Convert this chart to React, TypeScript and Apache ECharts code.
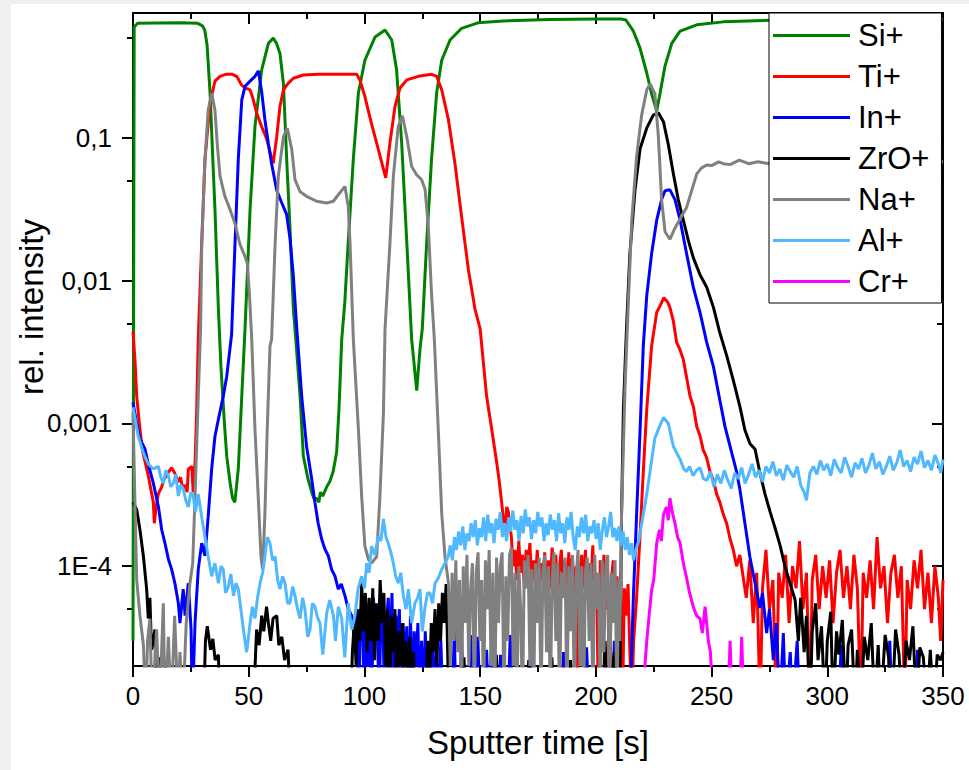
import React, { useEffect, useRef } from 'react';
import * as echarts from 'echarts';

const FONT = '"Liberation Sans", Arial, Helvetica, sans-serif';

const seriesNames = ['Si+', 'Ti+', 'In+', 'ZrO+', 'Na+', 'Al+', 'Cr+'];
const seriesColors = ['#008000', '#ff0000', '#0000ff', '#000000', '#808080', '#4fb8ff', '#ff00ff'];

const xRange = [0, 350];
const xInterval = 50;
const yRange = [2e-5, 0.75];
const yTickValues = [1e-4, 1e-3, 1e-2, 0.1];
const yTickLabels = ['1E-4', '0,001', '0,01', '0,1'];
const yMinorValues = [5e-5, 5e-4, 5e-3, 5e-2, 0.5];

const siPlus: [number, number][] = [[0,3e-5],[0.5,0.6],[2,0.635],[10,0.638],[20,0.64],[28,0.635],[30,0.61],[31,0.57],[32,0.45],[33.3,0.207],[34.5,0.07],[35.4,0.032],[36.9,0.0063],[38,0.0025],[39.5,0.001],[40.5,0.00059],[42,0.00038],[43,0.0003],[44,0.00028],[45.5,0.00048],[47,0.00155],[48.4,0.0046],[49.5,0.012],[50.6,0.032],[52.7,0.12],[55.6,0.3],[58.5,0.46],[60.6,0.5],[62,0.46],[63.5,0.39],[65,0.24],[66.4,0.071],[67.8,0.024],[69.3,0.0063],[70,0.0046],[72.2,0.00155],[73.6,0.00059],[75.6,0.00041],[77.5,0.00032],[78.5,0.00029],[79.4,0.0003],[80.3,0.00028],[81,0.00033],[82,0.00031],[83.7,0.00036],[85,0.00039],[86.5,0.00046],[88,0.00063],[89,0.00126],[90.2,0.0039],[91.5,0.007],[93,0.0186],[95.2,0.071],[97.4,0.207],[100.2,0.35],[104.6,0.51],[108.9,0.57],[111.8,0.485],[113.9,0.3],[116.1,0.092],[118.3,0.0186],[120.4,0.0039],[122.6,0.0017],[124,0.0033],[125,0.0046],[126.9,0.0186],[129,0.071],[131.2,0.207],[133.4,0.35],[137,0.485],[142,0.586],[149,0.64],[160,0.66],[180,0.675],[200,0.68],[211,0.68],[213,0.67],[216.2,0.56],[219,0.43],[222,0.285],[224.1,0.203],[226.3,0.155],[227.7,0.204],[229.9,0.32],[232.8,0.46],[236.4,0.56],[243.6,0.62],[255,0.65],[280,0.67],[350,0.68]];

const tiPlus: [number, number][] = [[0,0.0044],[0.9,0.0027],[1.6,0.00155],[3,0.00091],[4.2,0.00063],[5.2,0.00054],[6.6,0.00043],[7.5,0.00036],[8.8,0.00028],[9.2,0.0002],[10,0.00026],[10.9,0.00032],[12.4,0.00036],[13.5,0.00041],[14.5,0.00043],[15.5,0.00046],[16.7,0.00049],[18,0.00045],[19.6,0.00039],[20.5,0.00042],[21.5,0.00035],[22.5,0.00037],[23.4,0.00033],[23.9,0.00048],[25.4,0.0005],[26,0.00033],[26.8,0.00052],[27.5,0.0012],[28.2,0.0039],[29.7,0.0186],[31.1,0.071],[33.3,0.176],[35.4,0.25],[37.6,0.27],[40,0.279],[43,0.279],[44.8,0.27],[47,0.234],[48.4,0.224],[50.6,0.217],[52,0.185],[53.4,0.15],[55.6,0.12],[57.8,0.098],[59.9,0.072],[60.6,0.0665],[62.1,0.102],[63.5,0.166],[65,0.217],[67.1,0.242],[69.3,0.262],[73.6,0.276],[80,0.279],[90,0.279],[96.7,0.279],[98,0.255],[100.2,0.195],[103,0.127],[106,0.083],[109.2,0.0525],[111,0.092],[113.2,0.166],[115.4,0.224],[118.3,0.255],[123.3,0.27],[129,0.279],[131.2,0.27],[133.4,0.217],[136.3,0.134],[139.1,0.0665],[142,0.028],[144.9,0.012],[147.8,0.0063],[150,0.0046],[152.8,0.00155],[155,0.00091],[157.1,0.00054],[158.2,0.0004],[159.3,0.00028],[160.7,0.00017],[161.5,0.00026],[162.2,0.00024],[163.5,0.00016],[164.3,0.0001],[165.1,0.00013],[165.9,8e-5],[166.7,0.00015],[167.5,9e-5],[168.3,0.00012],[169.1,7e-5],[169.9,0.00013],[170.7,0.0001],[171.5,0.000145],[172.3,7.5e-5],[173.1,0.00011],[173.9,8e-5],[174.7,0.00013],[175.5,6.5e-5],[176.3,0.000105],[177.1,8e-5],[177.9,0.000125],[178.7,6e-5],[179.5,0.00011],[180.3,7e-5],[181.1,0.000135],[181.9,9e-5],[182.7,0.00012],[183.5,6e-5],[184.3,0.0001],[185.1,0.00013],[185.9,7e-5],[186.7,0.00011],[187.5,5.5e-5],[188.3,0.000125],[189.1,8e-5],[189.9,0.000115],[190.7,6e-5],[191.5,0.0001],[192.3,1e-5],[193.1,9e-5],[193.9,0.00012],[194.7,7e-5],[195.5,0.00013],[196.3,6e-5],[197.1,0.000105],[197.9,8e-5],[198.7,0.00014],[199.5,5e-5],[200.3,9e-5],[201.1,1e-5],[201.9,0.00011],[202.7,7e-5],[203.5,0.00012],[204.3,5e-5],[205.1,9e-5],[205.9,1e-5],[206.7,8e-5],[207.5,0.00011],[208.3,5e-5],[209.1,8.5e-5],[209.9,4e-5],[210.7,9e-5],[211.5,1e-5],[212.3,7e-5],[213.1,4.5e-5],[213.9,7.5e-5],[214.7,2.5e-5],[215.5,1e-5],[216.3,3e-5],[217.6,6e-5],[219.1,0.000166],[220.5,0.00046],[222,0.00126],[224.1,0.0035],[226.3,0.006],[228,0.0068],[229.4,0.0076],[231,0.0071],[232,0.0065],[233.5,0.0052],[234.9,0.0037],[236.3,0.0033],[237.8,0.0028],[239.2,0.0021],[240.7,0.00155],[242.2,0.0013],[243.6,0.00095],[245,0.00082],[246.4,0.00065],[247.8,0.00058],[249.3,0.00046],[250.8,0.0004],[252.2,0.00032],[253.6,0.00028],[255.1,0.00023],[256.5,0.0002],[258,0.000155],[259.4,0.00013],[260.8,0.0001],[262.2,0.00012],[263.7,8.3e-5],[265,6e-5],[266.5,0.00011],[268,4e-5],[269.5,9e-5],[271,1e-5],[272,7e-5],[273.5,0.00013],[275,5e-5],[276.5,8e-5],[278,1e-5],[279,9e-5],[280.5,6e-5],[282,0.00012],[283.5,4e-5],[285,0.0001],[286.5,7e-5],[288,0.00015],[289.5,5e-5],[291,9e-5],[292.5,1e-5],[293.5,8e-5],[295,0.00012],[296.5,5e-5],[298,0.0001],[299.5,6e-5],[301,0.00011],[302.5,4e-5],[304,9e-5],[305.5,0.00013],[307,6e-5],[308.5,0.0001],[310,5e-5],[311.5,0.00012],[313,7e-5],[314.5,1e-5],[315.5,9e-5],[317,6e-5],[318.5,0.00011],[320,5e-5],[321.5,0.00016],[323,7e-5],[324.5,0.0001],[326,4e-5],[327.5,9e-5],[329,0.00012],[330.5,6e-5],[332,0.0001],[333.5,1e-5],[334.5,8e-5],[336,5e-5],[337.5,0.00011],[339,7e-5],[340.5,0.00013],[342,5e-5],[343.5,9e-5],[345,4e-5],[346.5,0.0001],[348,6e-5],[349,3e-5],[350,8e-5]];

const inPlus: [number, number][] = [[0,0.0014],[1.6,0.001],[3,0.00078],[5.2,0.00066],[6.6,0.00052],[8.8,0.00038],[11,0.00026],[12.4,0.00018],[13.8,0.000145],[15.3,0.000112],[16.7,9.5e-5],[18.1,7.6e-5],[19.6,5.5e-5],[20.3,4e-5],[21.7,6.9e-5],[22.5,4.5e-5],[23.9,7.6e-5],[25.1,3.6e-5],[25.6,1e-5],[26.8,4e-5],[28.2,9.5e-5],[29.7,0.000145],[31.1,0.000118],[32.5,0.000224],[34,0.00048],[35.4,0.00081],[36.9,0.00107],[39,0.00155],[40.5,0.00214],[42.6,0.0042],[44.1,0.0186],[45.5,0.071],[47,0.185],[48.4,0.23],[50.6,0.25],[52.7,0.27],[54.2,0.295],[55.6,0.21],[57,0.134],[58.5,0.091],[59.9,0.066],[62.1,0.043],[64.3,0.035],[66.4,0.029],[67.8,0.02],[69.3,0.0107],[70.7,0.0048],[72.9,0.00155],[75,0.00069],[77.2,0.00041],[78.6,0.00028],[80,0.0002],[81.5,0.000155],[82.9,0.000132],[84.4,0.000118],[85.8,9.5e-5],[87.3,8.5e-5],[88.7,6.9e-5],[90,7.5e-5],[91.6,6.2e-5],[93,5e-5],[94.5,4.5e-5],[95.9,2.9e-5],[96.7,5e-5],[97.5,1e-5],[98.3,4.5e-5],[99.1,6e-5],[99.9,1e-5],[100.7,5.5e-5],[101.5,2e-5],[102.3,4.8e-5],[103.1,1e-5],[103.9,6e-5],[104.7,3e-5],[105.5,5e-5],[106.3,1e-5],[107.1,4.2e-5],[107.9,5.5e-5],[108.7,1e-5],[109.5,4e-5],[110.3,6e-5],[111.1,2e-5],[111.9,6.5e-5],[112.7,1e-5],[113.5,4.5e-5],[114.3,3e-5],[115.1,5e-5],[115.9,1e-5],[116.7,4e-5],[117.5,2e-5],[118.3,3.8e-5],[119.1,1e-5],[119.9,4.5e-5],[120.7,1e-5],[121.5,3.5e-5],[122.3,2e-5],[123.1,4e-5],[123.9,1e-5],[124.7,3e-5],[125.5,1e-5],[126.3,3.5e-5],[127.1,1e-5],[127.9,2.8e-5],[128.7,1e-5],[129.5,3.2e-5],[130.3,1e-5],[131.1,2.5e-5],[131.9,1e-5],[133,3e-5],[134,1e-5],[138,1e-5],[138.8,3.5e-5],[139.6,1e-5],[141,1e-5],[142,3e-5],[143,1e-5],[145.5,1e-5],[146.3,3.3e-5],[147.1,1e-5],[149,3.2e-5],[150,1e-5],[152,1e-5],[152.8,2.6e-5],[153.6,1e-5],[155,2.8e-5],[156,1e-5],[158,1e-5],[158.8,2.4e-5],[159.6,1e-5],[162,1e-5],[163,3.3e-5],[164,1e-5],[171,1e-5],[172,2.6e-5],[173,1e-5],[185,1e-5],[186,2.5e-5],[187,1e-5],[195,1e-5],[196,2.7e-5],[197,1e-5],[207,1e-5],[208,3e-5],[209,1e-5],[214.7,1e-5],[216.2,6e-5],[217.6,0.00023],[219.1,0.00089],[220.5,0.0035],[222,0.0079],[224.1,0.0155],[226.3,0.0266],[228.4,0.037],[229.9,0.0427],[232,0.0433],[234.2,0.037],[236.4,0.0266],[239.2,0.0155],[242.1,0.009],[245,0.006],[247.9,0.0037],[250.8,0.0025],[253.6,0.00145],[255.8,0.00095],[258,0.00069],[260.8,0.00046],[262.3,0.00034],[264.4,0.0002],[266.6,0.000115],[268.8,7.6e-5],[270.9,5.1e-5],[272,6.5e-5],[273.8,3.4e-5],[275,5e-5],[276.7,2.2e-5],[278,4e-5],[279.5,1e-5],[281,3.4e-5],[282,1e-5],[284,2.5e-5],[285,1e-5],[287,3e-5],[288,1e-5],[305,1e-5],[306,2.8e-5],[307,1e-5],[326,1e-5],[327,3e-5],[328,1e-5],[338,1e-5],[339,2.6e-5],[340,1e-5],[350,1e-5]];

const zroPlus: [number, number][] = [[0,0.00028],[1.6,0.00025],[3,0.00018],[4.5,0.000117],[5.9,6.9e-5],[6.6,4.3e-5],[7.3,6e-5],[8,2.6e-5],[9.5,3.6e-5],[10,1e-5],[11.5,2.3e-5],[12.5,1e-5],[14,2.2e-5],[15,1e-5],[30.5,1e-5],[31.3,3e-5],[32.1,3.8e-5],[33.5,2.6e-5],[34.5,3.1e-5],[35.5,2.2e-5],[36.9,2.4e-5],[37.5,1e-5],[52,1e-5],[53.4,3.6e-5],[54.5,2.8e-5],[55.6,4.5e-5],[56.5,3.5e-5],[57.7,5.2e-5],[58.5,4e-5],[59.5,3e-5],[60.5,4.3e-5],[62.1,4.5e-5],[63,2.8e-5],[64.3,3.2e-5],[65.5,2.2e-5],[67,2.6e-5],[68,1e-5],[94,1e-5],[94.8,2.5e-5],[95.6,4e-5],[96.4,2e-5],[97.2,5e-5],[98,3e-5],[98.8,7.6e-5],[99.6,3.5e-5],[100.4,6.5e-5],[101.2,2.5e-5],[102,6e-5],[102.8,3e-5],[103.6,7e-5],[104.4,2.2e-5],[105.2,5.5e-5],[106,3e-5],[106.8,8e-5],[107.6,4e-5],[108.4,6.5e-5],[109.2,2e-5],[110,5e-5],[110.8,1e-5],[111.6,4.5e-5],[112.4,2.5e-5],[113.2,5e-5],[114,1e-5],[114.8,3.5e-5],[115.6,2e-5],[116.4,4e-5],[117.2,1e-5],[118,3e-5],[118.8,1e-5],[119.6,3.2e-5],[120.4,1e-5],[121.2,2.5e-5],[122,1e-5],[126.5,1e-5],[127.3,3e-5],[128.1,1.5e-5],[128.9,4e-5],[129.7,2.5e-5],[130.5,5e-5],[131.3,2e-5],[132.1,5.5e-5],[132.9,3e-5],[133.7,6.5e-5],[134.5,4e-5],[135.3,7.5e-5],[136.1,2e-5],[136.9,1e-5],[142,1e-5],[143,2.3e-5],[144,1e-5],[156,1e-5],[157,2.4e-5],[158,1e-5],[170,1e-5],[171,2.2e-5],[172,1e-5],[180,1e-5],[181,2.3e-5],[182,1e-5],[188,1e-5],[189,2.2e-5],[190,1e-5],[203,1e-5],[204,3e-5],[205,1e-5],[208,2.5e-5],[209.5,1e-5],[210.4,1.8e-5],[211.1,0.00023],[211.9,0.00126],[213.3,0.0049],[214.7,0.0155],[216.9,0.0427],[219.1,0.084],[222,0.1175],[224.8,0.1445],[227,0.15],[229.2,0.13],[231.3,0.09],[233.5,0.056],[235.6,0.037],[237.8,0.0266],[240,0.019],[242.1,0.0145],[245,0.011],[247.9,0.009],[250.8,0.0065],[253.6,0.0043],[256.5,0.003],[259.4,0.002],[262.3,0.0013],[264.4,0.0009],[266.6,0.00072],[268.8,0.00066],[270.9,0.00045],[273.1,0.00032],[275.3,0.00024],[277.4,0.000186],[279.6,0.00014],[281.7,0.0001],[283.9,7.6e-5],[286.1,5.8e-5],[287.5,3e-5],[288.5,6e-5],[290,2.5e-5],[291,4.5e-5],[292.5,1e-5],[293.5,3.5e-5],[295,5.5e-5],[296,2.2e-5],[297.5,3.8e-5],[299,1e-5],[300,3e-5],[301.5,4.8e-5],[302.5,1e-5],[304,3.5e-5],[305,2.4e-5],[306.5,4.2e-5],[308,1e-5],[309,2.8e-5],[310.5,3.6e-5],[312,1e-5],[313,2.6e-5],[314.5,1e-5],[316,3.2e-5],[317.5,2.2e-5],[319,4e-5],[320.5,1e-5],[322,2.8e-5],[323,1e-5],[325,3.3e-5],[326.5,2.3e-5],[328,1e-5],[329.5,3.6e-5],[331,2.4e-5],[332.5,1e-5],[334,3e-5],[335.5,2.2e-5],[337,3.8e-5],[338.5,1e-5],[340,2.7e-5],[341.5,2.3e-5],[343,1e-5],[344.5,2.6e-5],[346,1e-5],[347.5,2.4e-5],[349,2.2e-5],[350,2.5e-5]];

const naPlus: [number, number][] = [[0,0.0012],[0.8,0.0003],[1.6,8e-5],[3,4.5e-5],[4.5,2.8e-5],[5.5,1e-5],[6.3,3e-5],[7.3,4.3e-5],[8.3,1e-5],[10.2,3.6e-5],[11.5,1e-5],[13.1,5.5e-5],[13.8,1e-5],[15.3,3.2e-5],[16.5,1e-5],[18,4.5e-5],[19.5,1e-5],[20.3,2.5e-5],[21.5,1e-5],[23,4e-5],[24.6,7.6e-5],[25.8,0.000105],[26.8,0.00031],[28.2,0.00155],[29.2,0.0046],[29.7,0.018],[31.1,0.071],[32.5,0.157],[34,0.206],[35.4,0.157],[36.4,0.091],[37.6,0.054],[39.7,0.039],[41.9,0.0316],[44.1,0.025],[46.2,0.018],[48.4,0.0148],[49.4,0.0132],[50.3,0.0081],[51.3,0.0039],[52.7,0.00091],[54.1,0.00031],[55.3,0.000117],[56,9.5e-5],[57,0.000234],[58,0.00091],[59.2,0.0035],[59.9,0.0039],[61.4,0.018],[62.8,0.054],[65,0.102],[66.7,0.117],[68.6,0.083],[70,0.051],[72.2,0.042],[75,0.039],[79.4,0.036],[83.7,0.035],[86.6,0.036],[88.7,0.04],[91.6,0.0457],[93,0.033],[93.8,0.018],[95.2,0.0039],[97.4,0.00091],[98.8,0.00031],[100.2,0.000138],[101.7,0.000112],[103.1,0.000105],[105.3,0.000117],[106.7,0.00031],[108.2,0.00117],[108.9,0.0046],[111,0.018],[112.5,0.054],[114.6,0.12],[116.4,0.143],[118.3,0.102],[120.4,0.063],[122.6,0.055],[124.7,0.051],[126.2,0.0437],[127.6,0.024],[129,0.0081],[130.2,0.0039],[131.9,0.00091],[133.4,0.000234],[134.8,0.000117],[136.3,7.6e-5],[137.1,2e-5],[137.9,9e-5],[138.7,3e-5],[139.5,0.00011],[140.3,2.5e-5],[141.1,8e-5],[141.9,1e-5],[142.7,0.0001],[143.5,4e-5],[144.3,0.00012],[145.1,2e-5],[145.9,7e-5],[146.7,0.000105],[147.5,1e-5],[148.3,9e-5],[149.1,0.000125],[149.9,3e-5],[150.7,8e-5],[151.5,1e-5],[152.3,0.00011],[153.1,5e-5],[153.9,0.00013],[154.7,2e-5],[155.5,9e-5],[156.3,1e-5],[157.1,0.000115],[157.9,4e-5],[158.7,0.0001],[159.5,0.000125],[160.3,1e-5],[161.1,8.5e-5],[161.9,3e-5],[162.7,0.00012],[163.5,0.000135],[164.3,2e-5],[165.1,9e-5],[165.9,1e-5],[166.7,0.0001],[167.5,5e-5],[168.3,1e-5],[169.1,0.00011],[169.9,7e-5],[170.7,0.00012],[171.5,2e-5],[172.3,9.5e-5],[173.1,1e-5],[173.9,0.000105],[174.7,4e-5],[175.5,0.000115],[176.3,1e-5],[177.1,9e-5],[177.9,0.00012],[178.7,2.5e-5],[179.5,0.0001],[180.3,1e-5],[181.1,8e-5],[181.9,0.000125],[182.7,3e-5],[183.5,0.000105],[184.3,1e-5],[185.1,9e-5],[185.9,6e-5],[186.7,0.000115],[187.5,1e-5],[188.3,0.0001],[189.1,3.5e-5],[189.9,0.00012],[190.7,1e-5],[191.5,8.5e-5],[192.3,0.00013],[193.1,2e-5],[193.9,0.0001],[194.7,1e-5],[195.5,9e-5],[196.3,0.000115],[197.1,3e-5],[197.9,0.000105],[198.7,1e-5],[199.5,0.00012],[200.3,5e-5],[201.1,9e-5],[201.9,1e-5],[202.7,0.00011],[203.5,2.5e-5],[204.3,0.0001],[205.1,0.00012],[205.9,1e-5],[206.7,9e-5],[207.5,4e-5],[208.3,0.00011],[209.1,1e-5],[209.9,8e-5],[210.4,3e-5],[211.1,0.00023],[212.6,0.00178],[214,0.0069],[215.5,0.0263],[217.6,0.074],[219.8,0.145],[222,0.217],[223.4,0.24],[225.5,0.204],[227,0.103],[228.4,0.037],[229.9,0.022],[232,0.0195],[234.2,0.0234],[237.1,0.0284],[239.2,0.0326],[241.4,0.0427],[243.6,0.056],[245.7,0.0617],[247.9,0.0646],[250,0.064],[253,0.068],[255.1,0.066],[258,0.065],[262,0.07],[266,0.066],[270,0.068],[275,0.066],[300,0.067],[350,0.068]];

const alPlus: [number, number][] = [[0,0.0013],[2.3,0.00081],[4.5,0.00062],[6.6,0.00052],[8.8,0.00048],[11,0.0005],[12,0.00042],[13.1,0.00038],[14.2,0.00047],[15.3,0.00043],[16.3,0.00036],[17.4,0.00038],[18.5,0.00044],[19.6,0.00031],[20.6,0.00037],[21.7,0.00035],[22.8,0.00029],[23.9,0.00026],[25,0.00033],[26,0.00031],[27,0.00024],[28.2,0.00032],[29.7,0.00022],[31.1,0.00016],[32.5,0.000117],[34,8.5e-5],[35.4,0.000105],[36.9,7.6e-5],[38,0.0001],[39,9.5e-5],[40,6.5e-5],[41.2,7.2e-5],[42.3,8.8e-5],[43.4,6.2e-5],[44.5,7.6e-5],[45.5,6.9e-5],[46.6,5e-5],[47.7,3.6e-5],[49.1,2.5e-5],[50.6,4e-5],[51.6,5.2e-5],[52.7,4.3e-5],[53.8,6e-5],[54.9,7.6e-5],[56,9e-5],[57,0.000117],[58,0.00016],[59.2,0.000145],[60.3,0.00011],[61.4,0.000117],[62.5,8e-5],[63.5,6.9e-5],[64.6,8.5e-5],[65.7,7.6e-5],[66.8,5.5e-5],[67.8,5.5e-5],[69,7.2e-5],[70,6.2e-5],[71.1,5e-5],[72.2,4.3e-5],[73.3,6e-5],[74.3,5e-5],[75.5,3.2e-5],[76.5,3.6e-5],[77.5,5.5e-5],[78.6,5.2e-5],[79.7,4.4e-5],[80.8,4e-5],[82,2.4e-5],[83.7,4.7e-5],[85,5.8e-5],[86.6,4.5e-5],[87.5,3e-5],[88.7,5.2e-5],[90.2,4.3e-5],[91.5,2.3e-5],[93,5.5e-5],[94.5,3.6e-5],[95.9,4.5e-5],[97.3,7e-5],[98.8,8.5e-5],[100,7e-5],[101,0.000105],[102,9e-5],[103.1,0.000138],[104.5,0.00012],[106,0.000162],[107.1,0.00015],[108.2,0.000214],[109.3,0.00016],[110.3,0.000145],[111.4,0.000125],[112.5,0.000105],[113.5,8.5e-5],[114.6,7.6e-5],[115.7,9e-5],[116.8,6.2e-5],[118,5e-5],[119,6.9e-5],[120.4,4e-5],[121.8,5.5e-5],[123,6e-5],[124,6.9e-5],[125,3.5e-5],[126.2,5.2e-5],[127.3,6.5e-5],[128.3,6.5e-5],[129.4,5.5e-5],[130.5,7.6e-5],[132,8.3e-5],[133.4,9.5e-5],[134.8,0.000105],[136.2,0.000117],[137.1,0.00014],[138,0.00011],[138.9,0.00016],[139.8,0.00013],[140.7,0.000175],[141.6,0.00014],[142.5,0.00019],[143.4,0.00013],[144.3,0.00017],[145.2,0.00015],[146.1,0.0002],[147,0.00016],[147.9,0.00021],[148.8,0.00014],[149.7,0.000185],[150.6,0.00016],[151.5,0.00022],[152.4,0.00015],[153.3,0.00023],[154.2,0.00017],[155.1,0.0002],[156,0.000145],[156.9,0.000215],[157.8,0.00018],[158.7,0.00024],[159.6,0.00016],[160.5,0.0002],[161.4,0.00015],[162.3,0.00022],[163.2,0.000175],[164.1,0.000245],[165,0.00018],[165.9,0.00021],[166.8,0.00015],[167.7,0.000225],[168.6,0.00017],[169.5,0.00025],[170.4,0.00019],[171.3,0.00022],[172.2,0.000155],[173.1,0.00021],[174,0.00017],[174.9,0.00024],[175.8,0.00019],[176.7,0.00022],[177.6,0.00015],[178.5,0.0002],[179.4,0.000165],[180.3,0.00023],[181.2,0.00018],[182.1,0.00021],[183,0.00015],[183.9,0.000235],[184.8,0.00017],[185.7,0.0002],[186.6,0.000145],[187.5,0.00022],[188.4,0.00018],[189.3,0.00024],[190.2,0.00016],[191.1,0.00013],[192,0.00019],[192.9,0.00016],[193.8,0.00022],[194.7,0.00017],[195.6,0.00023],[196.5,0.00015],[197.4,0.00019],[198.3,0.00017],[199.2,0.00021],[200.1,0.000155],[201,0.0002],[201.9,0.00013],[202.8,0.00018],[203.7,0.00022],[204.6,0.00016],[205.5,0.00019],[206.4,0.00024],[207.3,0.00016],[208.2,0.000185],[209.1,0.00015],[210,0.00019],[210.9,0.00014],[211.8,0.000175],[212.7,0.00013],[213.6,0.00016],[214.5,0.00012],[215.4,0.000145],[216.3,0.00011],[217.2,0.00013],[218.5,0.00015],[220.5,0.00023],[222,0.00032],[223.4,0.00046],[225.5,0.00079],[227.5,0.00095],[229.2,0.0011],[231.3,0.001],[233.5,0.00069],[235,0.00062],[236.4,0.00056],[238,0.00048],[239.2,0.00046],[240.5,0.0005],[242,0.00043],[243.5,0.00047],[245,0.00049],[246.5,0.00041],[248,0.0004],[249.5,0.00046],[251,0.00036],[252.5,0.00044],[254,0.00038],[255.5,0.00047],[257,0.0004],[258.5,0.00035],[260,0.00045],[261.5,0.00041],[263,0.00049],[264.5,0.00038],[266,0.00044],[267.5,0.00052],[269,0.00042],[270.5,0.00047],[272,0.00039],[273.5,0.0005],[275,0.00045],[276.5,0.00054],[278,0.00043],[279.5,0.00048],[281,0.0004],[282.5,0.00051],[284,0.00046],[285.5,0.00042],[287,0.0005],[288.5,0.00037],[290,0.00033],[291,0.00029],[292.5,0.00045],[294,0.0005],[295.5,0.00044],[297,0.00055],[298.5,0.00047],[300,0.00052],[301.5,0.00043],[303,0.00056],[304.5,0.00049],[306,0.00045],[307.5,0.00058],[309,0.0005],[310.5,0.00042],[312,0.00053],[313.5,0.00048],[315,0.00057],[316.5,0.00045],[318,0.00051],[319.5,0.00062],[321,0.00048],[322.5,0.00054],[324,0.00044],[325.5,0.0005],[327,0.00059],[328.5,0.00047],[330,0.00053],[331.5,0.00065],[333,0.0005],[334.5,0.00055],[336,0.00046],[337.5,0.00058],[339,0.00052],[340.5,0.00064],[342,0.00049],[343.5,0.00055],[345,0.00047],[346.5,0.0006],[348,0.00052],[349,0.00045],[350,0.00056]];

const crPlus: [number, number][] = [[0,1e-5],[220.5,1e-5],[221.2,2e-5],[222,3e-5],[223,4.5e-5],[224.1,6.8e-5],[225,8e-5],[226.3,0.000145],[227.5,0.00018],[228.3,0.00015],[229.2,0.00023],[230.5,0.00026],[231.3,0.00021],[232,0.0003],[233,0.00024],[234.2,0.0002],[235.3,0.00016],[236.4,0.000145],[237.8,0.000105],[239.2,8.3e-5],[240.5,6.5e-5],[242.1,5.2e-5],[243.5,4.5e-5],[245,4.3e-5],[246,3.4e-5],[247.2,5.2e-5],[248.6,3e-5],[249.5,2.5e-5],[250.8,1e-5],[257,1e-5],[258,3e-5],[259,1e-5],[262,1e-5],[263,3.2e-5],[264,1e-5],[350,1e-5]];

const seriesPoints = [siPlus, tiPlus, inPlus, zroPlus, naPlus, alPlus, crPlus];

export default function App() {
  const ref = useRef<HTMLDivElement>(null);
  useEffect(() => {
    if (!ref.current) return;
    const chart = echarts.init(ref.current, undefined, { renderer: 'svg' });
    const yLo = Math.log10(yRange[0]);
    const yHi = Math.log10(yRange[1]);
    const majorPos = yTickValues.map((v) => Math.log10(v));
    const minorPos = yMinorValues.map((v) => Math.log10(v));
    const labelFor = (v: number) => {
      const i = majorPos.findIndex((p) => Math.abs(p - v) < 1e-6);
      return i >= 0 ? yTickLabels[i] : '';
    };
    const axisLineStyle = { color: '#000', width: 2 };
    const baseY = {
      type: 'value' as const,
      min: yLo,
      max: yHi,
      splitLine: { show: false },
      axisLine: { show: true, lineStyle: axisLineStyle },
    };
    const baseX = {
      type: 'value' as const,
      min: xRange[0],
      max: xRange[1],
      interval: xInterval,
      splitLine: { show: false },
      axisLine: { show: true, onZero: false, lineStyle: axisLineStyle },
    };
    chart.setOption({
      animation: false,
      backgroundColor: '#ffffff',
      grid: { left: 133, right: 26, top: 13, bottom: 104, containLabel: false },
      graphic: [
        { type: 'rect', shape: { x: 0, y: 0, width: 11, height: 770 }, style: { fill: '#efefef' }, silent: true },
        { type: 'rect', shape: { x: 0, y: 0, width: 969, height: 4 }, style: { fill: '#efefef' }, silent: true },
        {
          type: 'text',
          x: 31,
          y: 307,
          rotation: Math.PI / 2,
          style: {
            text: 'rel. intensity',
            fontSize: 33,
            fontFamily: FONT,
            fill: '#000',
            align: 'center',
            verticalAlign: 'middle',
          },
        },
      ],
      xAxis: [
        {
          ...baseX,
          position: 'bottom',
          axisTick: { show: true, length: 11, lineStyle: { color: '#000', width: 2 } },
          minorTick: { show: true, splitNumber: 2, length: 6, lineStyle: { color: '#000', width: 2 } },
          axisLabel: { fontSize: 26, color: '#000', fontFamily: FONT, margin: 17 },
          name: 'Sputter time [s]',
          nameLocation: 'middle',
          nameGap: 60,
          nameTextStyle: { fontSize: 33, color: '#000', fontFamily: FONT },
        },
        {
          ...baseX,
          position: 'top',
          axisTick: { show: true, inside: true, length: 11, lineStyle: { color: '#000', width: 2 } },
          minorTick: { show: true, splitNumber: 2, length: 6, lineStyle: { color: '#000', width: 2 } },
          axisLabel: { show: false },
        },
      ],
      yAxis: [
        {
          ...baseY,
          position: 'left',
          axisTick: { show: true, customValues: majorPos, length: 11, lineStyle: { color: '#000', width: 2 } },
          axisLabel: {
            customValues: majorPos,
            formatter: (v: number) => labelFor(v),
            fontSize: 26,
            color: '#000',
            fontFamily: FONT,
            margin: 21,
          },
        },
        {
          ...baseY,
          position: 'left',
          axisLine: { show: false },
          axisTick: { show: true, customValues: minorPos, length: 6, lineStyle: { color: '#000', width: 2 } },
          axisLabel: { show: false },
        },
        {
          ...baseY,
          position: 'right',
          axisTick: { show: true, inside: true, customValues: majorPos, length: 11, lineStyle: { color: '#000', width: 2 } },
          axisLabel: { show: false },
        },
        {
          ...baseY,
          position: 'right',
          axisLine: { show: false },
          axisTick: { show: true, inside: true, customValues: minorPos, length: 6, lineStyle: { color: '#000', width: 2 } },
          axisLabel: { show: false },
        },
      ],
      legend: {
        orient: 'vertical',
        left: 769,
        top: 13,
        padding: [7, 12, 6, 4],
        itemWidth: 77,
        itemHeight: 3,
        itemGap: 10,
        icon: 'rect',
        backgroundColor: '#ffffff',
        borderColor: '#000',
        borderWidth: 1,
        borderRadius: 0,
        textStyle: { fontSize: 31, color: '#000', fontFamily: FONT, lineHeight: 30, padding: [0, 0, 0, 3] },
        data: seriesNames,
        z: 10,
      },
      series: seriesNames.map((name, i) => ({
        name,
        type: 'line',
        xAxisIndex: 0,
        yAxisIndex: 0,
        showSymbol: false,
        symbol: 'none',
        clip: true,
        color: seriesColors[i],
        lineStyle: { color: seriesColors[i], width: 3 },
        data: seriesPoints[i].map(([t, v]) => [t, Math.log10(v)]),
        z: 2 + i,
      })),
    });
    return () => chart.dispose();
  }, []);
  return (
    <div
      ref={ref}
      style={{ position: 'fixed', left: 0, top: 0, width: 969, height: 770, background: '#fff' }}
    />
  );
}
